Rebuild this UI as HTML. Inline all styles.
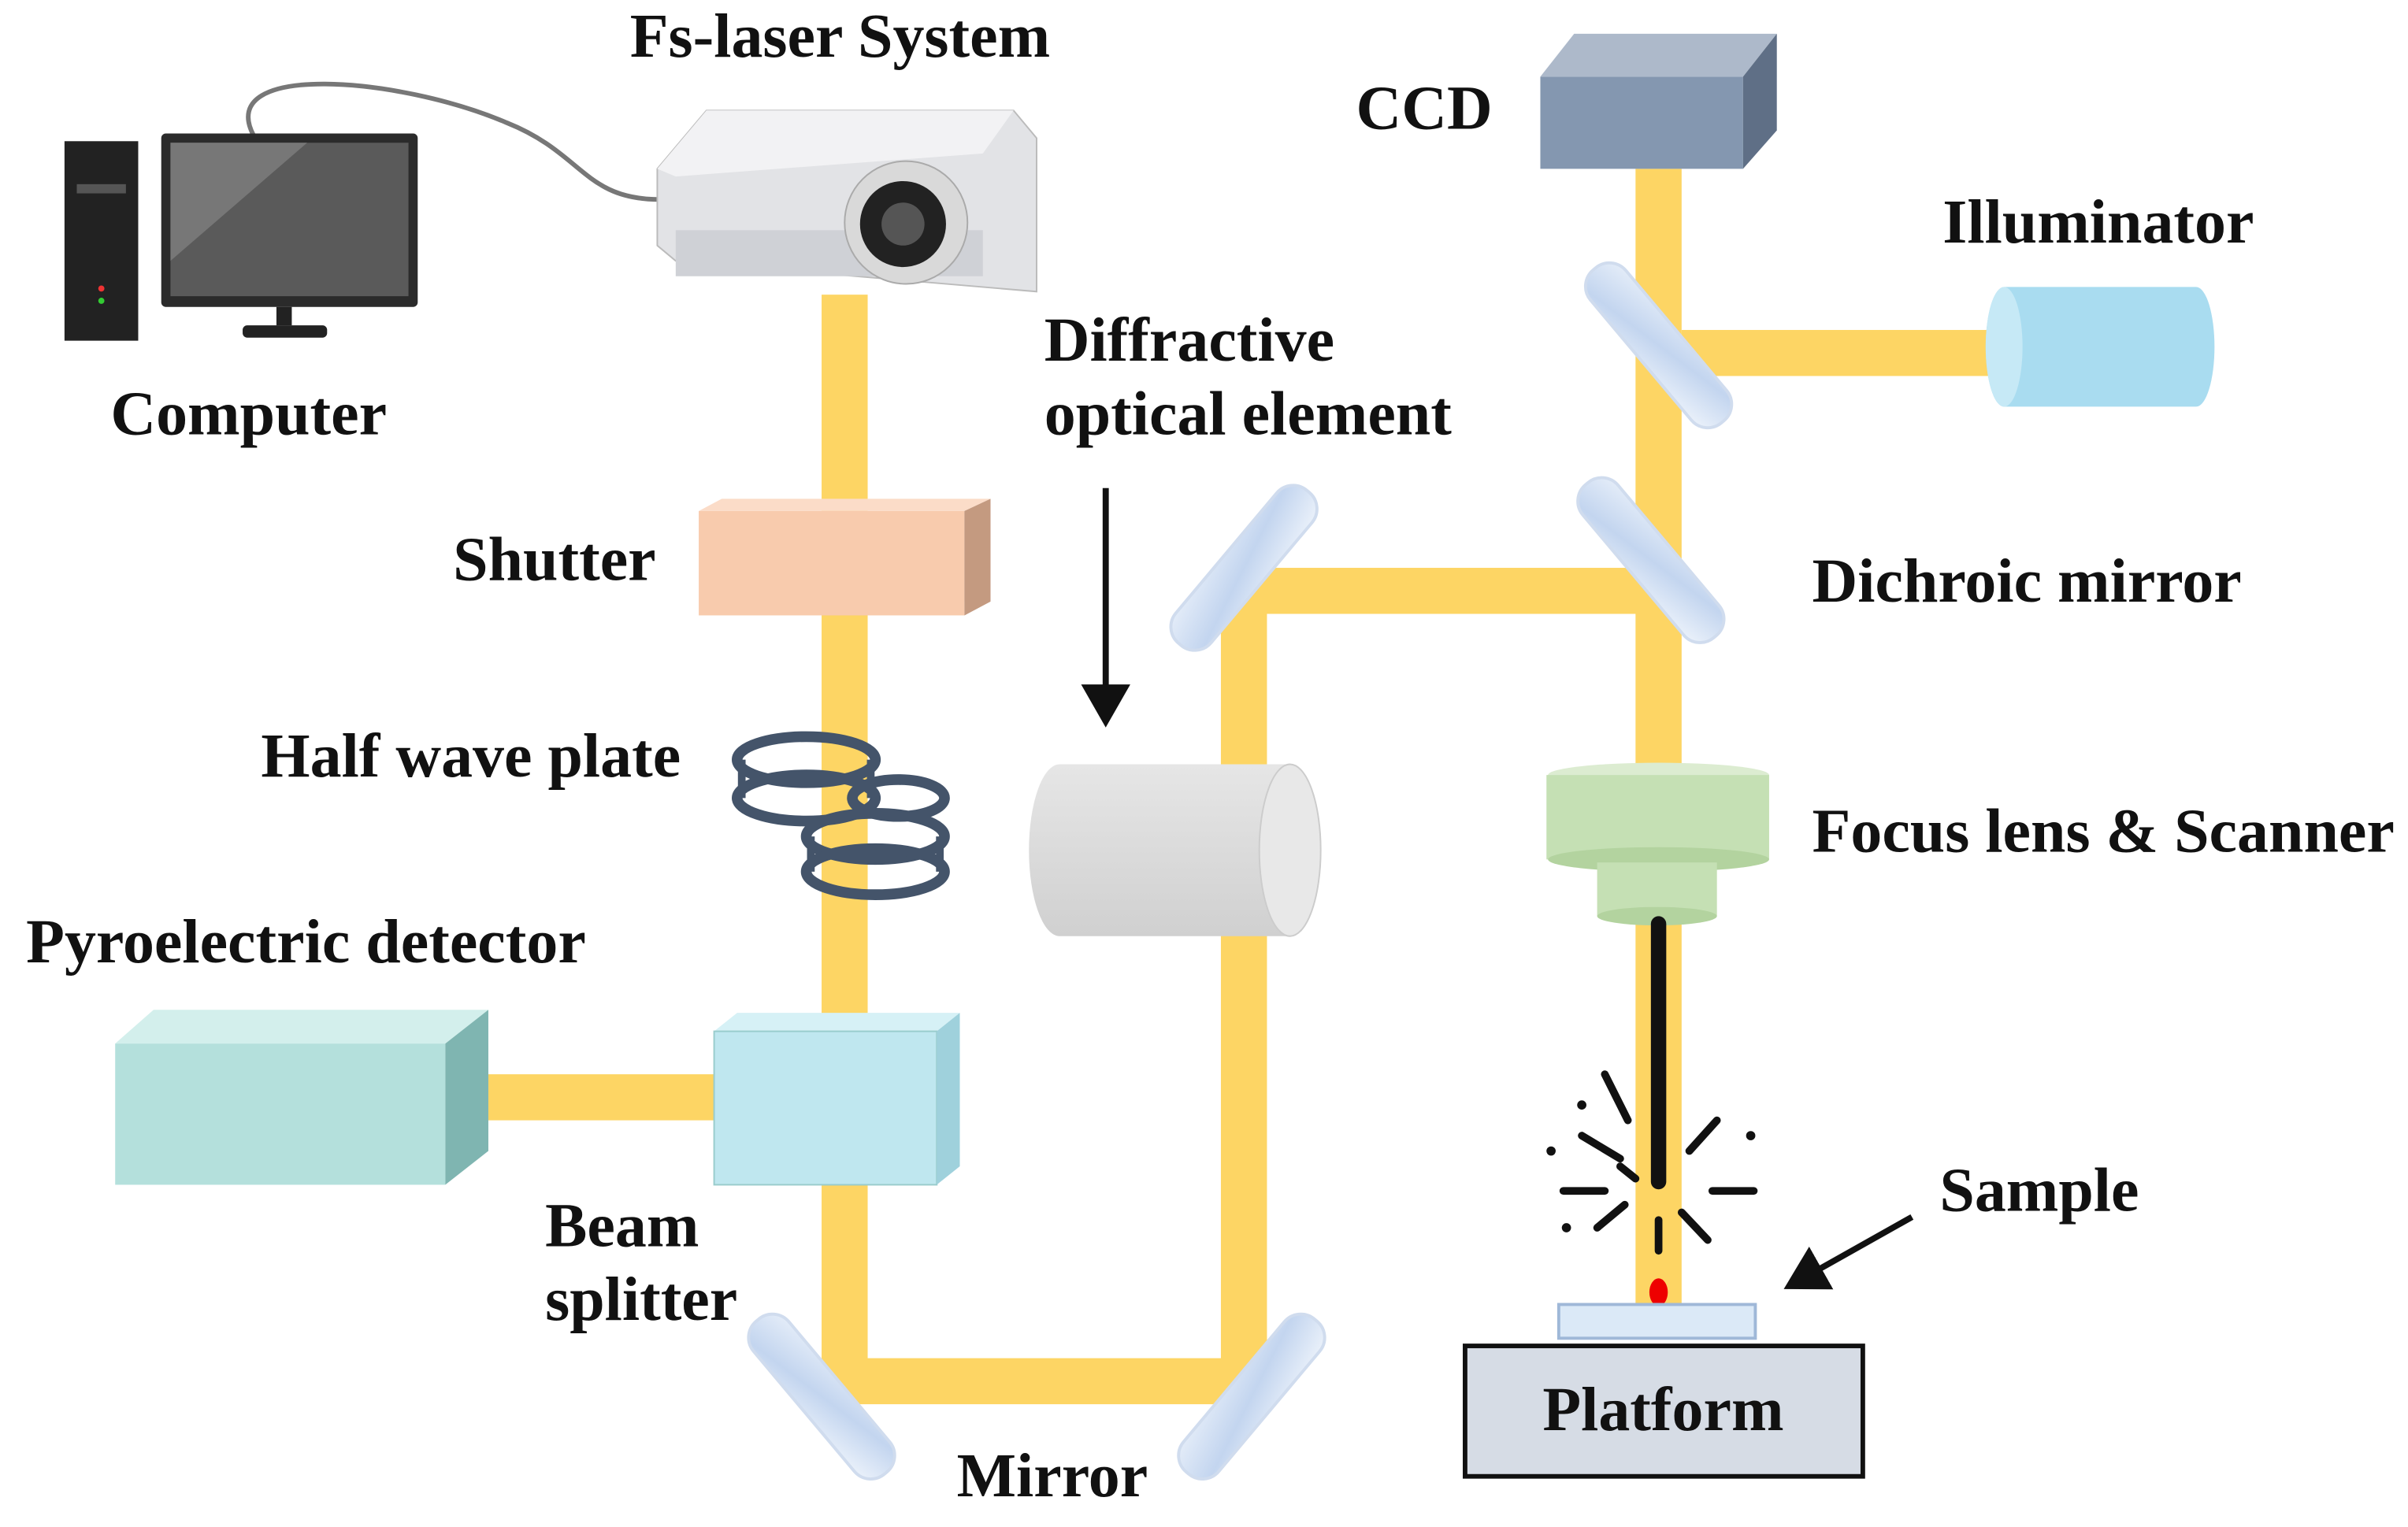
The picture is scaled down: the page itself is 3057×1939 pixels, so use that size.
<!DOCTYPE html>
<html><head><meta charset="utf-8"><style>
html,body{margin:0;padding:0;background:#fff;}
svg{display:block;}
text{font-family:"Liberation Serif",serif;font-weight:bold;font-size:41px;fill:#111;}
</style></head><body>
<svg width="3057" height="1939" viewBox="0 0 1568 995" preserveAspectRatio="none" xmlns="http://www.w3.org/2000/svg">
<defs>
<marker id="ah" markerWidth="8" markerHeight="8" refX="6" refY="4" orient="auto" markerUnits="strokeWidth"><path d="M0,0 L7,4 L0,8 z" fill="#111"/></marker>
<linearGradient id="mir" x1="0" y1="0" x2="1" y2="1"><stop offset="0" stop-color="#e6eef9"/><stop offset="0.5" stop-color="#c3d5ef"/><stop offset="1" stop-color="#edf3fb"/></linearGradient>
<linearGradient id="cyl" x1="0" y1="0" x2="0" y2="1"><stop offset="0" stop-color="#e6e6e6"/><stop offset="1" stop-color="#d0d0d0"/></linearGradient>
</defs>
<g fill="#fdd564">
<rect x="535" y="192" width="30" height="720"/>
<rect x="535" y="885" width="290" height="30"/>
<rect x="795" y="370" width="30" height="545"/>
<rect x="795" y="370" width="300" height="30"/>
<rect x="1065" y="110" width="30" height="745"/>
<rect x="1095" y="215" width="200" height="30"/>
<rect x="318" y="700" width="150" height="30"/>
</g>
<path d="M165,88 C140,40 260,50 330,80 C380,100 380,130 430,130" fill="none" stroke="#777" stroke-width="3"/>
<rect x="42" y="92" width="48" height="130" fill="#222"/>
<rect x="50" y="120" width="32" height="6" fill="#555"/>
<circle cx="66" cy="188" r="2" fill="#e33"/><circle cx="66" cy="196" r="2" fill="#3c3"/>
<rect x="105" y="87" width="167" height="113" rx="3" fill="#2b2b2b"/>
<rect x="111" y="93" width="155" height="100" fill="#5a5a5a"/>
<polygon points="111,93 200,93 111,170" fill="#777"/>
<rect x="180" y="200" width="10" height="12" fill="#222"/>
<rect x="158" y="212" width="55" height="8" rx="3" fill="#222"/>
<polygon points="428,110 460,72 660,72 675,90 675,190 440,170 428,160" fill="#e2e3e6" stroke="#bbb"/>
<polygon points="428,110 460,72 660,72 640,100 440,115" fill="#f2f2f4"/>
<rect x="440" y="150" width="200" height="30" fill="#cfd1d6"/>
<circle cx="590" cy="145" r="40" fill="#d9d9d9" stroke="#aaa"/>
<circle cx="588" cy="146" r="28" fill="#222"/>
<circle cx="588" cy="146" r="14" fill="#555"/>
<polygon points="455,333 470,325 645,325 628,333" fill="#fbdcc8"/>
<rect x="455" y="333" width="173" height="68" fill="#f8cbad"/>
<polygon points="628,333 645,325 645,392 628,401" fill="#c49a80"/>
<g fill="none" stroke="#44546a" stroke-width="7">
<ellipse cx="525" cy="495" rx="45" ry="15"/><ellipse cx="525" cy="520" rx="45" ry="15"/>
<ellipse cx="585" cy="520" rx="30" ry="12"/>
<ellipse cx="570" cy="545" rx="45" ry="15"/><ellipse cx="570" cy="568" rx="45" ry="15"/>
</g>
<g stroke="#44546a" stroke-width="5">
<line x1="483" y1="495" x2="483" y2="520"/><line x1="567" y1="495" x2="567" y2="520"/>
<line x1="528" y1="545" x2="528" y2="568"/><line x1="612" y1="545" x2="612" y2="568"/>
</g>
<polygon points="465,672 480,660 625,660 610,672" fill="#d6f1f6"/>
<rect x="465" y="672" width="145" height="100" fill="#bfe7ef" stroke="#9cc"/>
<polygon points="610,672 625,660 625,760 610,772" fill="#9fd1dc"/>
<polygon points="75,680 100,658 318,658 290,680" fill="#d3efec"/>
<rect x="75" y="680" width="215" height="92" fill="#b4e0dc"/>
<polygon points="290,680 318,658 318,750 290,772" fill="#7fb5b1"/>
<path d="M690,498 L840,498 A20,56 0 0 1 840,610 L690,610 A20,56 0 0 1 690,498 z" fill="url(#cyl)"/>
<ellipse cx="840" cy="554" rx="20" ry="56" fill="#e8e8e8" stroke="#ccc"/>
<line x1="720" y1="318" x2="720" y2="470" stroke="#111" stroke-width="4" marker-end="url(#ah)"/>
<g fill="url(#mir)" stroke="#d0dcee" stroke-width="2">
<rect x="-65" y="-15" width="130" height="30" rx="14" transform="translate(810,370) rotate(-50)"/>
<rect x="-65" y="-15" width="130" height="30" rx="14" transform="translate(1075,365) rotate(50)"/>
<rect x="-65" y="-15" width="130" height="30" rx="14" transform="translate(1080,225) rotate(50)"/>
<rect x="-65" y="-15" width="130" height="30" rx="14" transform="translate(535,910) rotate(50)"/>
<rect x="-65" y="-15" width="130" height="30" rx="14" transform="translate(815,910) rotate(-50)"/>
</g>
<polygon points="1003,50 1025,22 1157,22 1135,50" fill="#adb9ca"/>
<rect x="1003" y="50" width="132" height="60" fill="#8497b0"/>
<polygon points="1135,50 1157,22 1157,85 1135,110" fill="#5f6f86"/>
<path d="M1305,187 L1430,187 A12,39 0 0 1 1430,265 L1305,265 A12,39 0 0 1 1305,187 z" fill="#a9dcf0"/>
<ellipse cx="1305" cy="226" rx="12" ry="39" fill="#c6e9f6"/>
<ellipse cx="1080" cy="505" rx="72" ry="8" fill="#dcecd1"/>
<rect x="1007" y="505" width="145" height="55" fill="#c5e0b4"/>
<ellipse cx="1080" cy="560" rx="72" ry="8" fill="#b3d39f"/>
<rect x="1040" y="562" width="78" height="35" fill="#c5e0b4"/>
<ellipse cx="1079" cy="597" rx="39" ry="6" fill="#b3d39f"/>
<line x1="1080" y1="602" x2="1080" y2="770" stroke="#111" stroke-width="10" stroke-linecap="round"/>
<g stroke="#111" stroke-width="5" stroke-linecap="round">
<line x1="1045" y1="700" x2="1060" y2="730"/><line x1="1030" y1="740" x2="1055" y2="755"/>
<line x1="1018" y1="776" x2="1045" y2="776"/><line x1="1040" y1="800" x2="1058" y2="785"/>
<line x1="1118" y1="730" x2="1100" y2="750"/><line x1="1115" y1="776" x2="1142" y2="776"/>
<line x1="1095" y1="790" x2="1112" y2="808"/><line x1="1080" y1="795" x2="1080" y2="815"/>
<line x1="1055" y1="760" x2="1065" y2="768"/>
</g>
<g fill="#111"><circle cx="1010" cy="750" r="3"/><circle cx="1030" cy="720" r="3"/><circle cx="1140" cy="740" r="3"/><circle cx="1020" cy="800" r="3"/></g>
<ellipse cx="1080" cy="842" rx="6" ry="9" fill="#e00"/>
<rect x="1015" y="850" width="128" height="22" fill="#dbe9f7" stroke="#9fb8d8" stroke-width="2"/>
<rect x="954" y="877" width="259" height="85" fill="#d6dce5" stroke="#111" stroke-width="3"/>
<line x1="1245" y1="793" x2="1165" y2="838" stroke="#111" stroke-width="4" marker-end="url(#ah)"/>
<text x="547" y="37" text-anchor="middle">Fs-laser System</text>
<text x="72" y="283">Computer</text>
<text x="883" y="84">CCD</text>
<text x="1265" y="158">Illuminator</text>
<text x="680" y="235">Diffractive</text>
<text x="680" y="283">optical element</text>
<text x="295" y="378">Shutter</text>
<text x="1180" y="392">Dichroic mirror</text>
<text x="170" y="506">Half wave plate</text>
<text x="1180" y="555">Focus lens &amp; Scanner</text>
<text x="17" y="627">Pyroelectric detector</text>
<text x="355" y="812">Beam</text>
<text x="355" y="860">splitter</text>
<text x="1263" y="789">Sample</text>
<text x="623" y="975">Mirror</text>
<text x="1083" y="932" text-anchor="middle">Platform</text>
</svg>
</body></html>
